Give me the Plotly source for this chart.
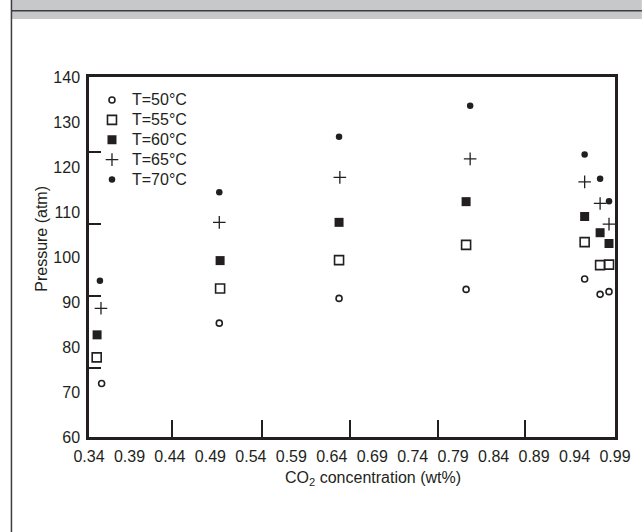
import plotly.graph_objects as go

# ---- data ----
series_names = ["T=50°C", "T=55°C", "T=60°C", "T=65°C", "T=70°C"]
x_50 = [0.3556, 0.501, 0.649, 0.806, 0.9525, 0.9716, 0.9826]
p_50 = [71.9, 85.3, 90.8, 92.8, 95.1, 91.7, 92.3]
x_55 = [0.3495, 0.502, 0.649, 0.806, 0.9525, 0.9716, 0.9826]
p_55 = [77.7, 93.0, 99.3, 102.7, 103.3, 98.2, 98.3]
x_60 = [0.3500, 0.502, 0.649, 0.806, 0.9525, 0.9716, 0.9826]
p_60 = [82.7, 99.2, 107.7, 112.3, 109.0, 105.4, 103.0]
x_65 = [0.3548, 0.501, 0.650, 0.811, 0.9525, 0.9716, 0.9826]
p_65 = [88.6, 107.7, 117.7, 121.8, 116.7, 111.9, 107.3]
x_70 = [0.3535, 0.501, 0.649, 0.811, 0.9525, 0.9716, 0.9826]
p_70 = [94.7, 114.4, 126.7, 133.6, 122.8, 117.4, 112.4]

x_ticks = [0.34, 0.39, 0.44, 0.49, 0.54, 0.59, 0.64, 0.69, 0.74, 0.79, 0.84, 0.89, 0.94, 0.99]
x_tick_text = ["0.34", "0.39", "0.44", "0.49", "0.54", "0.59", "0.64", "0.69", "0.74", "0.79", "0.84", "0.89", "0.94", "0.99"]
y_ticks = [60, 70, 80, 90, 100, 110, 120, 130, 140]
x_stray_ticks = [0.443, 0.554, 0.662, 0.771, 0.879]
y_stray_ticks = [75.3, 91.4, 107.3, 123.3]

INK = "#231f20"
FONT = "Liberation Sans, Arial, sans-serif"

W, H = 643, 532
L, R, T, B = 89, 618, 77, 437


def px2x(px):
    return (px - L) / (R - L)


def py2y(py):
    return (B - py) / (B - T)


styles = [
    dict(symbol="circle-open", size=6, color=INK, line=dict(width=1.6, color=INK)),
    dict(symbol="square-open", size=9, color=INK, line=dict(width=1.6, color=INK)),
    dict(symbol="square", size=9, color=INK, line=dict(width=0)),
    dict(symbol="cross-thin-open", size=9, color=INK, line=dict(width=1.3, color=INK)),
    dict(symbol="circle", size=6.5, color=INK, line=dict(width=0)),
]

fig = go.Figure()
for name, xs, ys, st in zip(series_names,
                            [x_50, x_55, x_60, x_65, x_70],
                            [p_50, p_55, p_60, p_65, p_70],
                            styles):
    fig.add_trace(go.Scatter(x=xs, y=ys, mode="markers",
                             name='<span style="font-size:16px">' + name + '</span>',
                             marker=st))

fig.update_layout(
    width=W, height=H,
    margin=dict(l=L, r=W - R, t=T, b=H - B),
    paper_bgcolor="white", plot_bgcolor="white",
    font=dict(family=FONT, size=16, color=INK),
    showlegend=True,
    legend=dict(x=px2x(92), y=py2y(85), xanchor="left", yanchor="top",
                bgcolor="rgba(0,0,0,0)", font=dict(size=13, color=INK),
                tracegroupgap=0, itemsizing="trace"),
    xaxis=dict(range=[0.34, 0.99], tickmode="array", tickvals=x_ticks, ticktext=x_tick_text,
               ticks="", showgrid=False, zeroline=False, showline=True, linewidth=2.5,
               linecolor=INK, mirror=True, ticklabelstandoff=3,
               minor=dict(tickmode="array", tickvals=x_stray_ticks, ticks="inside",
                          ticklen=17, tickwidth=2.2, tickcolor=INK, showgrid=False)),
    yaxis=dict(range=[60, 140], tickmode="array", tickvals=y_ticks,
               ticks="", showgrid=False, zeroline=False, showline=True, linewidth=2.5,
               linecolor=INK, mirror=True, ticklabelstandoff=3,
               minor=dict(tickmode="array", tickvals=y_stray_ticks, ticks="inside",
                          ticklen=12, tickwidth=2.2, tickcolor=INK, showgrid=False)),
    annotations=[
        dict(text="Pressure (atm)", textangle=-90, xref="paper", yref="paper",
             x=px2x(41.5), y=py2y(239), xanchor="center", yanchor="middle",
             showarrow=False, font=dict(size=16, color=INK)),
        dict(text="CO<sub>2</sub> concentration (wt%)", xref="paper", yref="paper",
             x=px2x(375), y=py2y(478), xanchor="center", yanchor="middle",
             showarrow=False, font=dict(size=16, color=INK)),
    ],
    shapes=[
        dict(type="rect", xref="paper", yref="paper", x0=px2x(11), x1=px2x(W + 2),
             y0=py2y(19), y1=py2y(-2), fillcolor="#c7c8ca", line=dict(width=0), layer="above"),
        dict(type="line", xref="paper", yref="paper", x0=px2x(11), x1=px2x(W + 2),
             y0=py2y(10.8), y1=py2y(10.8), line=dict(color="#3d3d3f", width=1.5), layer="above"),
        dict(type="line", xref="paper", yref="paper", x0=px2x(11), x1=px2x(11),
             y0=py2y(-2), y1=py2y(H + 2), line=dict(color="#3d3d3f", width=1.5), layer="above"),
    ],
)

fig.write_html("out.html", config={"displayModeBar": False},
               post_script="document.body.style.margin='0';document.body.style.padding='0';")
